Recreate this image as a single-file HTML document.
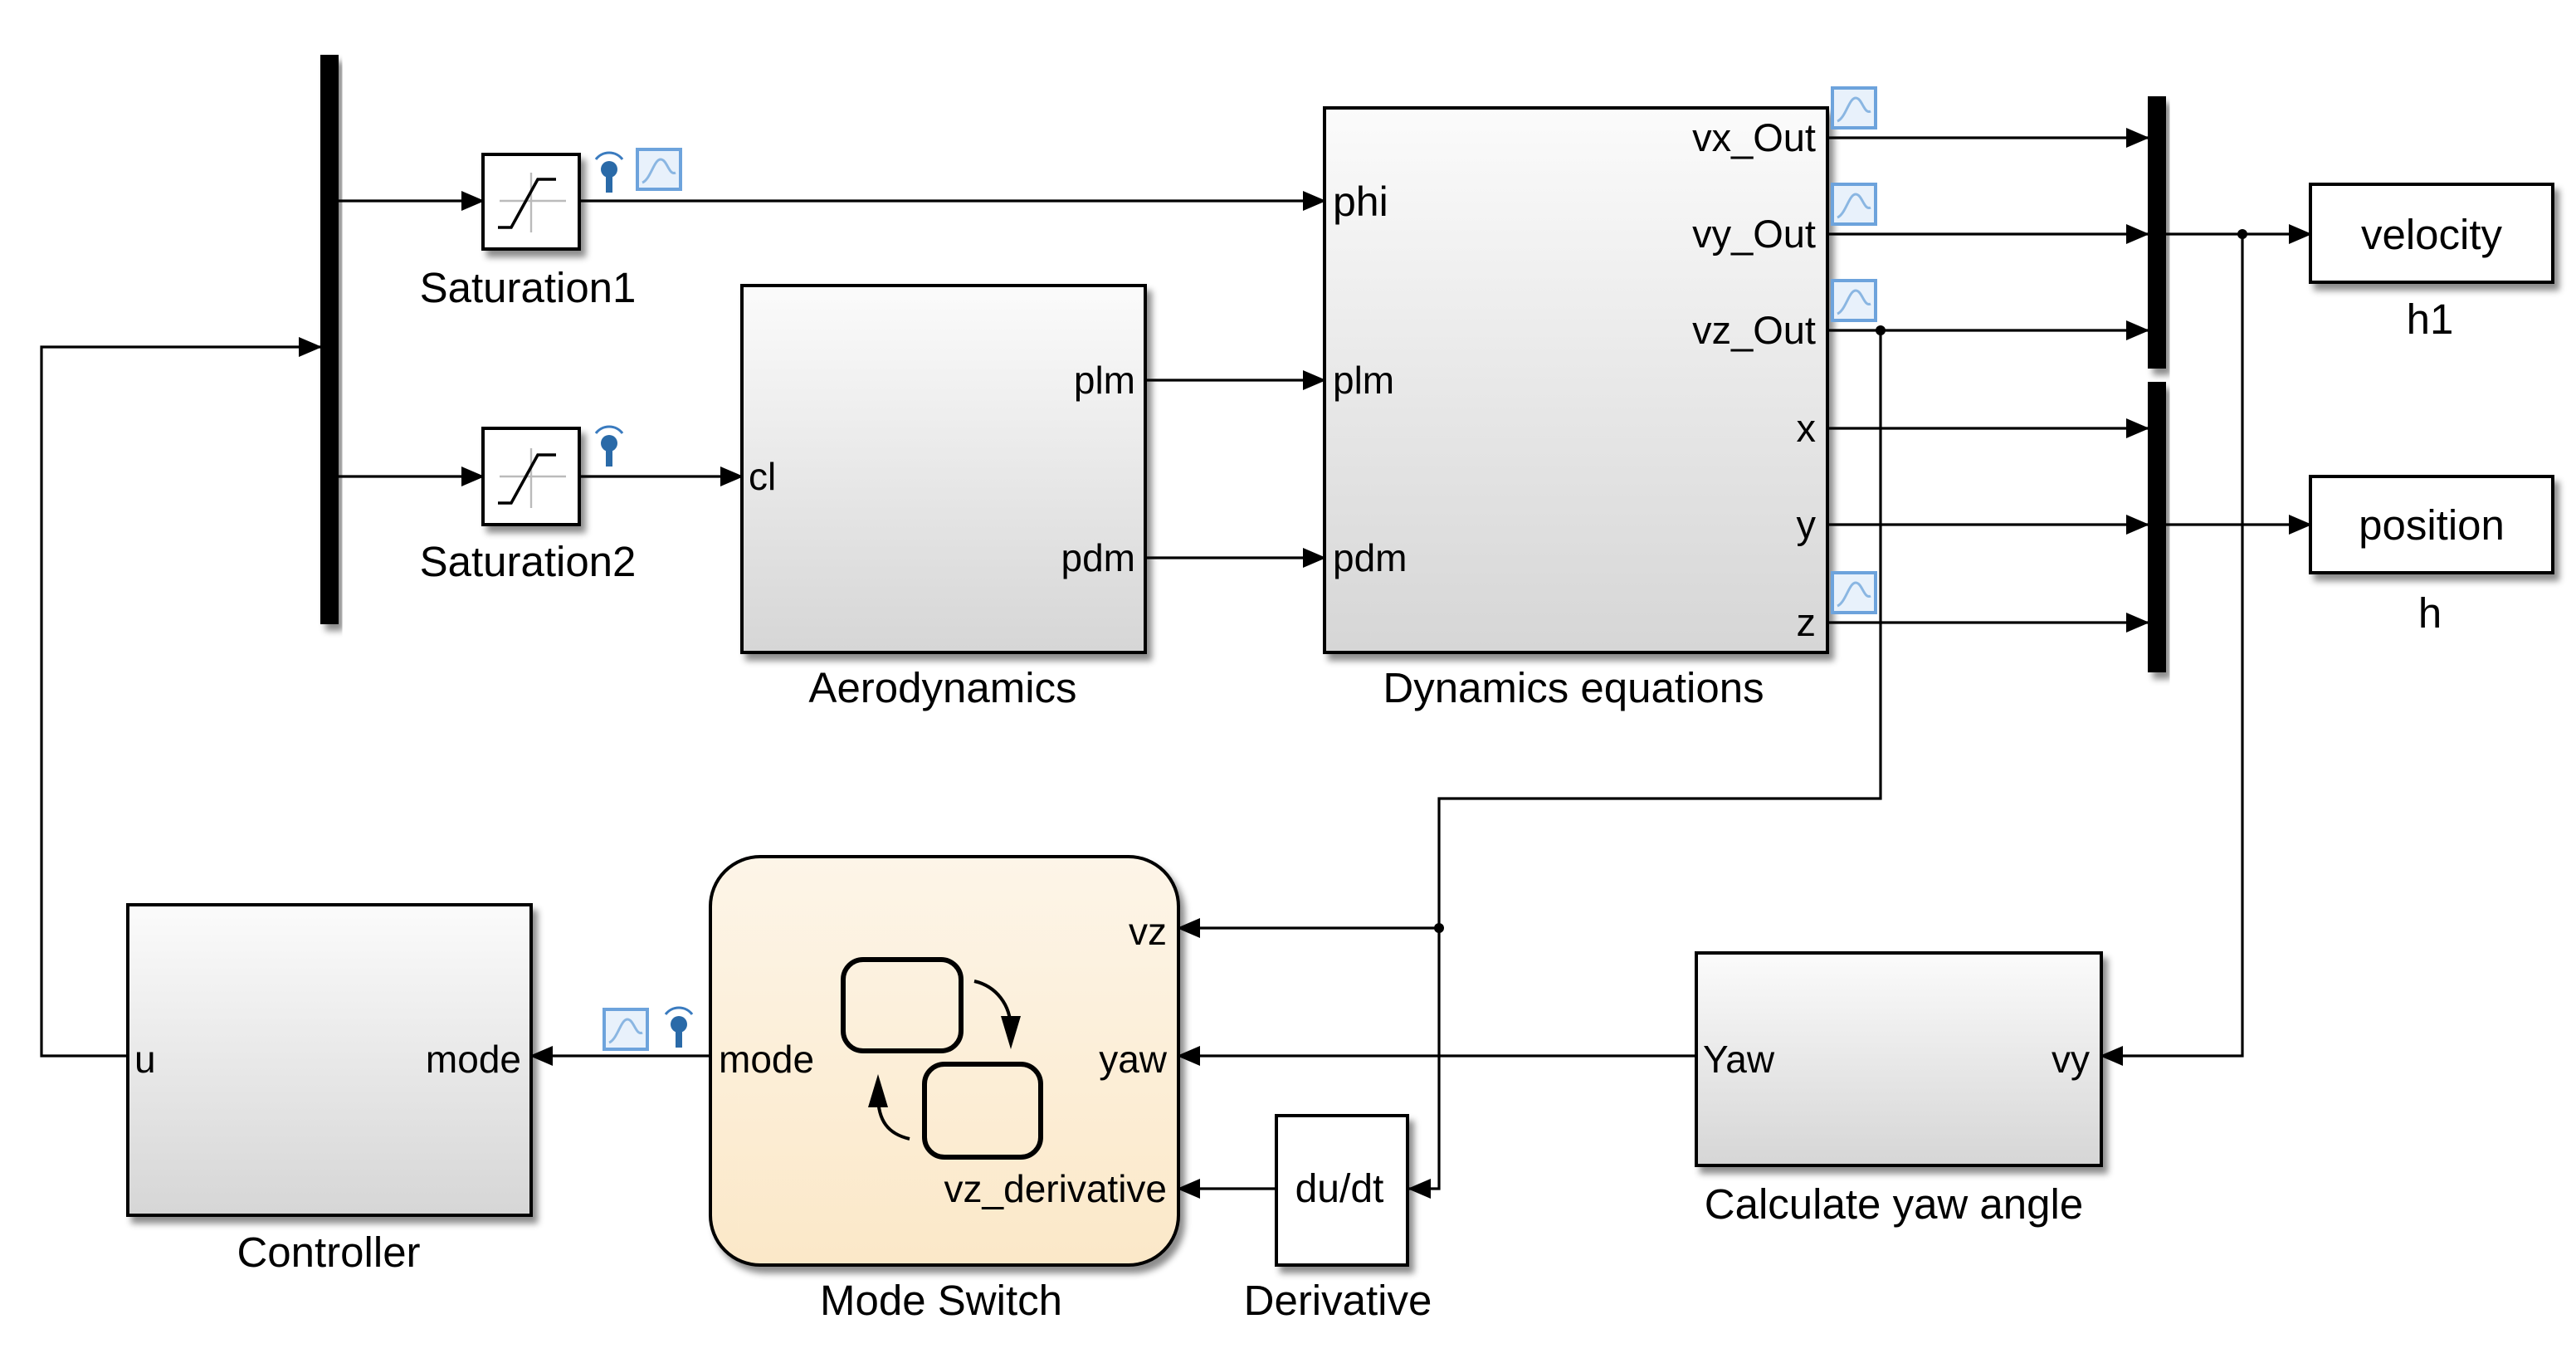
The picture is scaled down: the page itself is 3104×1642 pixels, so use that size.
<!DOCTYPE html>
<html><head><meta charset="utf-8"><style>
html,body{margin:0;padding:0;background:#fff;}
svg{display:block;}
text{font-family:"Liberation Sans",Arial,sans-serif;fill:#000;}
</style></head><body>
<svg width="3104" height="1642" viewBox="0 0 1552 821" xmlns="http://www.w3.org/2000/svg">
<defs>
<linearGradient id="g" x1="0" y1="0" x2="0" y2="1"><stop offset="0" stop-color="#fbfbfb"/><stop offset="1" stop-color="#d6d6d6"/></linearGradient>
<linearGradient id="o" x1="0" y1="0" x2="0" y2="1"><stop offset="0" stop-color="#fdf5e8"/><stop offset="1" stop-color="#fbe8c8"/></linearGradient>
<filter id="sh" x="-10%" y="-10%" width="130%" height="130%"><feDropShadow dx="3" dy="4" stdDeviation="2" flood-color="#000" flood-opacity="0.45"/></filter>
<marker id="a" markerWidth="14" markerHeight="12" refX="13" refY="6" orient="auto" markerUnits="userSpaceOnUse"><path d="M0,0 L14,6 L0,12 z" fill="#000"/></marker>
<g id="scope"><rect x="0" y="0" width="26" height="24" fill="#e8f1fb" stroke="#6da3dc" stroke-width="2"/><path d="M3,20 C8,18 10,6 14,6 C18,6 19,16 23,14" fill="none" stroke="#8ab6e2" stroke-width="1.5"/></g>
<g id="ant"><path d="M-8,-2 A10,10 0 0 1 8,-2" fill="none" stroke="#3a7bbf" stroke-width="1.5"/><circle cx="0" cy="4" r="5" fill="#2a6aa8"/><rect x="-2" y="6" width="4" height="12" fill="#2a6aa8"/></g>
</defs>
<g stroke="#000" stroke-width="1.6" fill="none">
<line x1="204" y1="121" x2="291" y2="121" marker-end="url(#a)"/>
<line x1="204" y1="287" x2="291" y2="287" marker-end="url(#a)"/>
<line x1="349" y1="121" x2="798" y2="121" marker-end="url(#a)"/>
<line x1="349" y1="287" x2="447" y2="287" marker-end="url(#a)"/>
<line x1="690" y1="229" x2="798" y2="229" marker-end="url(#a)"/>
<line x1="690" y1="336" x2="798" y2="336" marker-end="url(#a)"/>
<line x1="1101" y1="83" x2="1294" y2="83" marker-end="url(#a)"/>
<line x1="1101" y1="141" x2="1294" y2="141" marker-end="url(#a)"/>
<line x1="1101" y1="199" x2="1294" y2="199" marker-end="url(#a)"/>
<line x1="1101" y1="258" x2="1294" y2="258" marker-end="url(#a)"/>
<line x1="1101" y1="316" x2="1294" y2="316" marker-end="url(#a)"/>
<line x1="1101" y1="375" x2="1294" y2="375" marker-end="url(#a)"/>
<line x1="1305" y1="141" x2="1392" y2="141" marker-end="url(#a)"/>
<line x1="1305" y1="316" x2="1392" y2="316" marker-end="url(#a)"/>
<polyline points="1351,141 1351,636 1266,636" marker-end="url(#a)"/>
<polyline points="1133,199 1133,481 867,481 867,716 849,716" marker-end="url(#a)"/>
<line x1="867" y1="559" x2="710" y2="559" marker-end="url(#a)"/>
<line x1="1022" y1="636" x2="710" y2="636" marker-end="url(#a)"/>
<line x1="769" y1="716" x2="710" y2="716" marker-end="url(#a)"/>
<line x1="428" y1="636" x2="320" y2="636" marker-end="url(#a)"/>
<polyline points="77,636 25,636 25,209 193,209" marker-end="url(#a)"/>
</g>
<circle cx="1351" cy="141" r="3" fill="#000"/>
<circle cx="1133" cy="199" r="3" fill="#000"/>
<circle cx="867" cy="559" r="3" fill="#000"/>
<rect x="193" y="33" width="11" height="343" fill="#000" filter="url(#sh)"/>
<rect x="1294" y="58" width="11" height="164" fill="#000" filter="url(#sh)"/>
<rect x="1294" y="230" width="11" height="175" fill="#000" filter="url(#sh)"/>
<g stroke="#000" stroke-width="2">
<rect x="291" y="93" width="58" height="57" fill="#fff" filter="url(#sh)"/>
<rect x="291" y="258" width="58" height="58" fill="#fff" filter="url(#sh)"/>
</g>
<g stroke="#bbb" stroke-width="1.2"><line x1="301" y1="121" x2="341" y2="121"/><line x1="320" y1="104" x2="320" y2="140"/><line x1="301" y1="287" x2="341" y2="287"/><line x1="320" y1="270" x2="320" y2="306"/></g>
<g stroke="#000" stroke-width="1.8" fill="none"><polyline points="300,137 308,137 324,108 335,108"/><polyline points="300,303 308,303 324,274 335,274"/></g>
<text x="318" y="182" font-size="25.5" text-anchor="middle">Saturation1</text>
<text x="318" y="347" font-size="25.5" text-anchor="middle">Saturation2</text>
<use href="#ant" x="367" y="98"/><use href="#scope" x="384" y="90"/>
<use href="#ant" x="367" y="263"/>
<rect x="447" y="172" width="243" height="221" fill="url(#g)" stroke="#000" stroke-width="2" filter="url(#sh)"/>
<text x="451" y="295" font-size="23">cl</text>
<text x="684" y="237" font-size="23" text-anchor="end">plm</text>
<text x="684" y="344" font-size="23" text-anchor="end">pdm</text>
<text x="568" y="423" font-size="25.5" text-anchor="middle">Aerodynamics</text>
<rect x="798" y="65" width="303" height="328" fill="url(#g)" stroke="#000" stroke-width="2" filter="url(#sh)"/>
<text x="803" y="130" font-size="25">phi</text>
<text x="803" y="237" font-size="23">plm</text>
<text x="803" y="344" font-size="23">pdm</text>
<text x="1094" y="91" font-size="23.5" text-anchor="end">vx_Out</text>
<text x="1094" y="149" font-size="23.5" text-anchor="end">vy_Out</text>
<text x="1094" y="207" font-size="23.5" text-anchor="end">vz_Out</text>
<text x="1094" y="266" font-size="23.5" text-anchor="end">x</text>
<text x="1094" y="324" font-size="23.5" text-anchor="end">y</text>
<text x="1094" y="383" font-size="23.5" text-anchor="end">z</text>
<text x="948" y="423" font-size="25.5" text-anchor="middle">Dynamics equations</text>
<use href="#scope" x="1104" y="53"/><use href="#scope" x="1104" y="111"/><use href="#scope" x="1104" y="169"/><use href="#scope" x="1104" y="345"/>
<rect x="1392" y="111" width="146" height="59" fill="#fff" stroke="#000" stroke-width="2" filter="url(#sh)"/>
<text x="1465" y="150" font-size="25.5" text-anchor="middle">velocity</text>
<text x="1464" y="201" font-size="25.5" text-anchor="middle">h1</text>
<rect x="1392" y="287" width="146" height="58" fill="#fff" stroke="#000" stroke-width="2" filter="url(#sh)"/>
<text x="1465" y="325" font-size="25.5" text-anchor="middle">position</text>
<text x="1464" y="378" font-size="25.5" text-anchor="middle">h</text>
<rect x="77" y="545" width="243" height="187" fill="url(#g)" stroke="#000" stroke-width="2" filter="url(#sh)"/>
<text x="81" y="646" font-size="23">u</text>
<text x="314" y="646" font-size="23" text-anchor="end">mode</text>
<text x="198" y="763" font-size="25.5" text-anchor="middle">Controller</text>
<use href="#scope" x="364" y="608"/><use href="#ant" x="409" y="613"/>
<rect x="428" y="516" width="282" height="246" rx="30" fill="url(#o)" stroke="#000" stroke-width="2" filter="url(#sh)"/>
<text x="433" y="646" font-size="23">mode</text>
<text x="703" y="569" font-size="23" text-anchor="end">vz</text>
<text x="703" y="646" font-size="23" text-anchor="end">yaw</text>
<text x="703" y="724" font-size="23" text-anchor="end">vz_derivative</text>
<rect x="508" y="578" width="71" height="55" rx="12" fill="none" stroke="#000" stroke-width="3"/>
<rect x="557" y="641" width="70" height="56" rx="12" fill="none" stroke="#000" stroke-width="3"/>
<path d="M587,591 C600,594 609,605 609,620" fill="none" stroke="#000" stroke-width="2"/>
<path d="M603,612 L615,612 L609,632 z" fill="#000"/>
<path d="M548,686 C535,683 529,675 529,660" fill="none" stroke="#000" stroke-width="2"/>
<path d="M523,667 L535,667 L529,647 z" fill="#000"/>
<text x="567" y="792" font-size="25.5" text-anchor="middle">Mode Switch</text>
<rect x="769" y="672" width="79" height="90" fill="#fff" stroke="#000" stroke-width="2" filter="url(#sh)"/>
<text x="807" y="724" font-size="24" text-anchor="middle">du/dt</text>
<text x="806" y="792" font-size="25.5" text-anchor="middle">Derivative</text>
<rect x="1022" y="574" width="244" height="128" fill="url(#g)" stroke="#000" stroke-width="2" filter="url(#sh)"/>
<text x="1026" y="646" font-size="23">Yaw</text>
<text x="1259" y="646" font-size="23" text-anchor="end">vy</text>
<text x="1141" y="734" font-size="25.5" text-anchor="middle">Calculate yaw angle</text>
</svg>
</body></html>
